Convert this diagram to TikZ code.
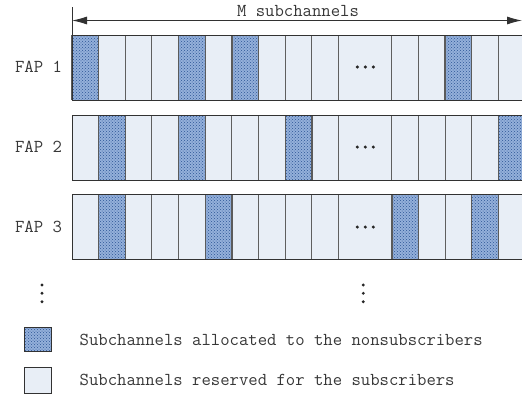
\documentclass[tikz,border=0pt]{standalone}
\usepackage{fontspec}
\usetikzlibrary{arrows.meta,patterns}
\definecolor{lightcell}{RGB}{232,238,246}
\definecolor{shadebase}{RGB}{148,176,218}
\definecolor{shadedot}{RGB}{45,85,150}
\definecolor{sepgray}{RGB}{95,95,95}
\definecolor{framegray}{RGB}{50,50,50}
\definecolor{textgray}{RGB}{55,55,55}
\tikzset{
  lbl/.style={font=\ttfamily\fontsize{18.2}{18}\selectfont, text=textgray, inner sep=0pt},
  shadecell/.style={fill=shadebase},
  dotcell/.style={pattern=crosshatch dots, pattern color=shadedot},
  sepline/.style={draw=sepgray, line width=1pt},
  shadeedge/.style={draw=framegray!80, line width=1.4pt},
  frameline/.style={draw=framegray, line width=1pt},
  smalldot/.style={fill=black!85},
}
\begin{document}
\begin{tikzpicture}[x=1pt,y=-1pt]
\useasboundingbox (0,0) rectangle (522,397);
\def\cw{26.65}
\begin{scope}
\clip (0,0) rectangle (522,397);
\foreach \yt/\yb/\shl/\dy in {35/100/{0,4,6,14}/67, 115/180/{1,4,8,16}/147, 194/259/{1,5,12,15}/227} {
  \fill[lightcell] (72,\yt) rectangle (525.6,\yb);
  \foreach \s in \shl {
    \fill[shadecell] ({72+\s*\cw},\yt) rectangle ({72+(\s+1)*\cw},\yb);
    \fill[dotcell] ({72+\s*\cw},\yt) rectangle ({72+(\s+1)*\cw},\yb);
  }
  \foreach \b in {1,...,10,12,13,...,16} {
    \draw[sepline] ({72+\b*\cw},\yt) -- ({72+\b*\cw},\yb);
  }
  \foreach \s in \shl {
    \draw[shadeedge] ({72+\s*\cw},\yt) -- ({72+\s*\cw},\yb);
    \draw[shadeedge] ({72+(\s+1)*\cw},\yt) -- ({72+(\s+1)*\cw},\yb);
  }
  \draw[frameline] (72,\yt) -- (525.6,\yt);
  \draw[frameline] (72,\yb) -- (525.6,\yb);
  \draw[frameline] (72,\yt) -- (72,\yb);
  \foreach \dx in {357.3,365.3,373.3} {
    \fill[smalldot] (\dx,\dy) circle (1.7pt);
  }
}
\end{scope}
% top arrow
\coordinate (al) at (72,20.5);
\coordinate (ar) at (522,20.5);
\coordinate (tickt) at (72,7);
\coordinate (tickb) at (72,35);
\draw[framegray, line width=0.9pt] (tickt) -- (tickb);
\draw[framegray, line width=0.9pt, {Latex[length=15pt,width=8pt]}-{Latex[length=15pt,width=8pt]}] (al) -- (ar);
\node[lbl] (mlabel) at (298,11) {M subchannels};
% FAP labels
\node[lbl] (fap1) at (38.5,67) {FAP 1};
\node[lbl] (fap2) at (38.5,147) {FAP 2};
\node[lbl] (fap3) at (38.5,227) {FAP 3};
% vertical dots
\foreach \vx in {42,363.3} {
  \foreach \vy in {285,293.3,301.7} {
    \fill[smalldot] (\vx,\vy) circle (1.6pt);
  }
}
% legend
\fill[shadecell] (24,327.5) rectangle (51,351.5);
\fill[dotcell] (24,327.5) rectangle (51,351.5);
\draw[framegray, line width=0.8pt] (24,327.5) rectangle (51,351.5);
\fill[lightcell] (24,367) rectangle (51,393);
\draw[framegray, line width=0.8pt] (24,367) rectangle (51,393);
\node[lbl, anchor=west] (leg1) at (79.5,340) {Subchannels allocated to the nonsubscribers};
\node[lbl, anchor=west] (leg2) at (79.5,380) {Subchannels reserved for the subscribers};
\end{tikzpicture}
\end{document}
